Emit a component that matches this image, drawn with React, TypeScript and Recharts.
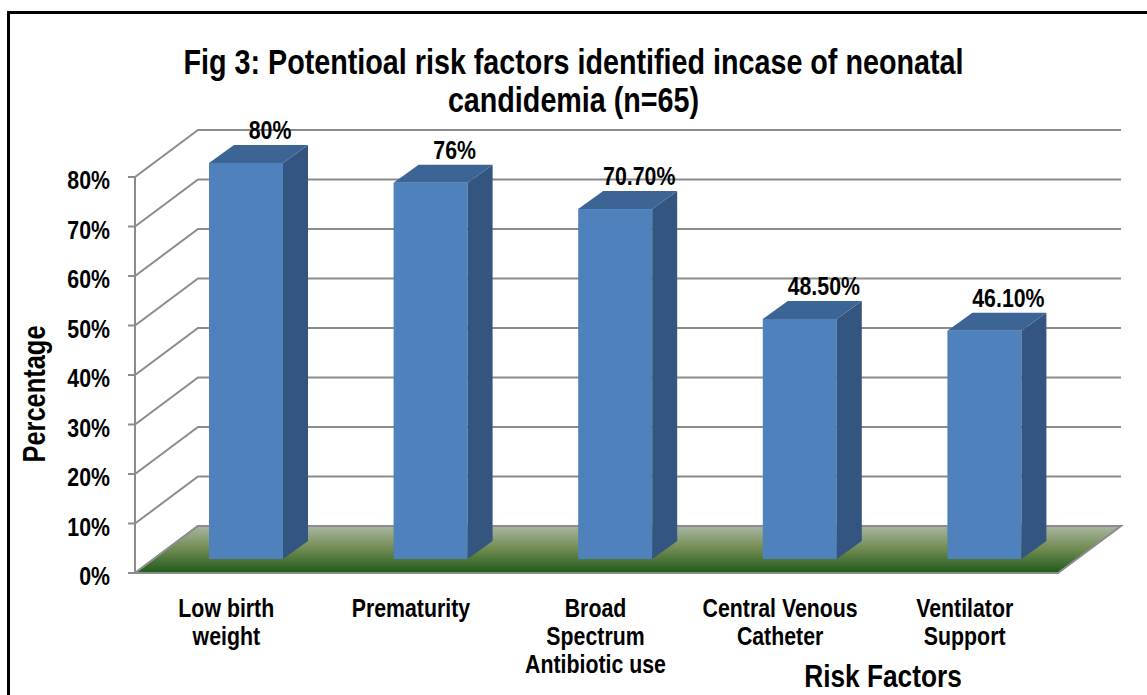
import React from "react";
import { BarChart, Bar, XAxis, YAxis, CartesianGrid, ReferenceArea, LabelList } from "recharts";

const categories = [
  "Low birth weight",
  "Prematurity",
  "Broad Spectrum Antibiotic use",
  "Central Venous Catheter",
  "Ventilator Support",
];
const categoryLines = [
  ["Low birth", "weight"],
  ["Prematurity"],
  ["Broad", "Spectrum", "Antibiotic use"],
  ["Central Venous", "Catheter"],
  ["Ventilator", "Support"],
];
const percentages = [80, 76, 70.7, 48.5, 46.1];
const valueLabels = ["80%", "76%", "70.70%", "48.50%", "46.10%"];
const yTicks = [0, 10, 20, 30, 40, 50, 60, 70, 80];

const data = categories.map((name, i) => ({ name, value: percentages[i], label: valueLabels[i] }));

// Arial Narrow look-alike: Liberation Sans bold squeezed horizontally
const FONT = "'Liberation Sans', Arial, sans-serif";
const SQUEEZE = 0.82;
// oblique projection offsets relative to the bar plane
const FRONT = { dx: -19, dy: 14 };
const BACK = { dx: 44, dy: -33 };
const DEPTH = { dx: 25, dy: -18 };
const GRID = "#8c8c8c";

const NarrowText = ({ x, y, size, anchor = "middle", children }: any) => (
  <text
    transform={`translate(${x},${y}) scale(${SQUEEZE},1)`}
    textAnchor={anchor}
    fontFamily={FONT}
    fontWeight="bold"
    fontSize={size}
    fill="#000"
  >
    {children}
  </text>
);

const gridLine = (p: any) => {
  const { x1, x2, y1 } = p;
  const fx = x1 + FRONT.dx;
  const fy = y1 + FRONT.dy;
  const by = y1 + BACK.dy;
  return (
    <path
      key={p.key ?? `grid-${y1}`}
      d={`M${fx - 7},${fy}L${fx},${fy}L${x1 + BACK.dx},${by}L${x2 + BACK.dx},${by}`}
      stroke={GRID}
      strokeWidth={2}
      fill="none"
    />
  );
};

// floor + front value axis, built from the plot rectangle
const Walls = (p: any) => {
  const { x, y, width, height } = p;
  const l = x;
  const r = x + width;
  const b = y + height;
  return (
    <g>
      <defs>
        <linearGradient id="floorFill" x1="0" y1="0" x2="0" y2="1">
          <stop offset="0%" stopColor="#a9b6a1" />
          <stop offset="50%" stopColor="#6f8a4f" />
          <stop offset="100%" stopColor="#1d591b" />
        </linearGradient>
      </defs>
      <polygon
        points={`${l + FRONT.dx},${b + FRONT.dy} ${r + FRONT.dx},${b + FRONT.dy} ${r + BACK.dx},${b + BACK.dy} ${l + BACK.dx},${b + BACK.dy}`}
        fill="url(#floorFill)"
        stroke={GRID}
        strokeWidth={2}
      />
      <line x1={l + FRONT.dx} y1={y + FRONT.dy} x2={l + FRONT.dx} y2={b + FRONT.dy} stroke={GRID} strokeWidth={2} />
      <line x1={l + FRONT.dx - 7} y1={b + FRONT.dy} x2={l + FRONT.dx} y2={b + FRONT.dy} stroke={GRID} strokeWidth={2} />
    </g>
  );
};

const Bar3D = (p: any) => {
  const { x, y, width, height } = p;
  const b = y + height;
  const { dx, dy } = DEPTH;
  return (
    <g>
      <rect x={x} y={y} width={width} height={height} fill="#4F81BD" />
      <path d={`M${x + width},${y}L${x + width + dx},${y + dy}L${x + width + dx},${b + dy}L${x + width},${b}Z`} fill="#34557F" />
      <path d={`M${x},${y}L${x + dx},${y + dy}L${x + width + dx},${y + dy}L${x + width},${y}Z`} fill="#3C6595" />
    </g>
  );
};

const ValueLabel = (p: any) => {
  const { x, y, width, value } = p;
  return (
    <NarrowText x={Number(x) + Number(width) / 2 + 24} y={Number(y) - 24} size={26}>
      {value}
    </NarrowText>
  );
};

const CategoryTick = (p: any) => {
  const { x, y, payload } = p;
  const lines = categoryLines[categories.indexOf(payload.value)] || [payload.value];
  return (
    <NarrowText x={x - 20} y={y + 58} size={26}>
      {lines.map((l: string, i: number) => (
        <tspan key={i} x={0} dy={i ? 28 : 0}>
          {l}
        </tspan>
      ))}
    </NarrowText>
  );
};

const ValueTick = (p: any) => {
  const { x, y, payload } = p;
  return (
    <NarrowText x={x - 44} y={y + 26} size={26} anchor="end">
      {`${payload.value}%`}
    </NarrowText>
  );
};

const textBase: React.CSSProperties = {
  position: "absolute",
  whiteSpace: "nowrap",
  fontFamily: FONT,
  fontWeight: "bold",
  color: "#000",
};

export default function App() {
  return (
    <div style={{ position: "absolute", left: 0, top: 0, width: 1147, height: 695, overflow: "hidden", background: "#fff" }}>
      <div style={{ position: "absolute", left: 7, top: 11, width: 1300, height: 800, borderLeft: "3px solid #000", borderTop: "3px solid #000" }} />
      <div
        style={{
          ...textBase,
          left: 0,
          top: 43,
          width: 1147,
          textAlign: "center",
          fontSize: 35,
          lineHeight: "38px",
          transform: `scaleX(${SQUEEZE})`,
        }}
      >
        Fig 3: Potentioal risk factors identified incase of neonatal
        <br />
        candidemia (n=65)
      </div>
      <div
        style={{
          ...textBase,
          left: 35,
          top: 394,
          fontSize: 31,
          lineHeight: "28px",
          transform: `translate(-50%, -50%) rotate(-90deg) scaleX(${SQUEEZE})`,
        }}
      >
        Percentage
      </div>
      <div
        style={{
          ...textBase,
          left: 883,
          top: 676,
          fontSize: 32,
          lineHeight: "26px",
          transform: `translate(-50%, -50%) scaleX(${SQUEEZE})`,
        }}
      >
        Risk Factors
      </div>
      <div style={{ position: "absolute", left: 0, top: 0 }}>
        <BarChart width={1147} height={695} data={data} margin={{ top: 163, right: 70, bottom: 106, left: 94 }}>
          <CartesianGrid vertical={false} horizontal={gridLine} />
          <ReferenceArea y1={0} y2={80} shape={Walls} />
          <XAxis dataKey="name" type="category" height={30} axisLine={false} tickLine={false} tickSize={0} tickMargin={0} tick={CategoryTick} interval={0} />
          <YAxis type="number" domain={[0, 80]} ticks={yTicks} width={60} axisLine={false} tickLine={false} tickSize={0} tickMargin={0} tick={ValueTick} />
          <Bar dataKey="value" barSize={74} shape={Bar3D} isAnimationActive={false}>
            <LabelList dataKey="label" content={ValueLabel} />
          </Bar>
        </BarChart>
      </div>
    </div>
  );
}
